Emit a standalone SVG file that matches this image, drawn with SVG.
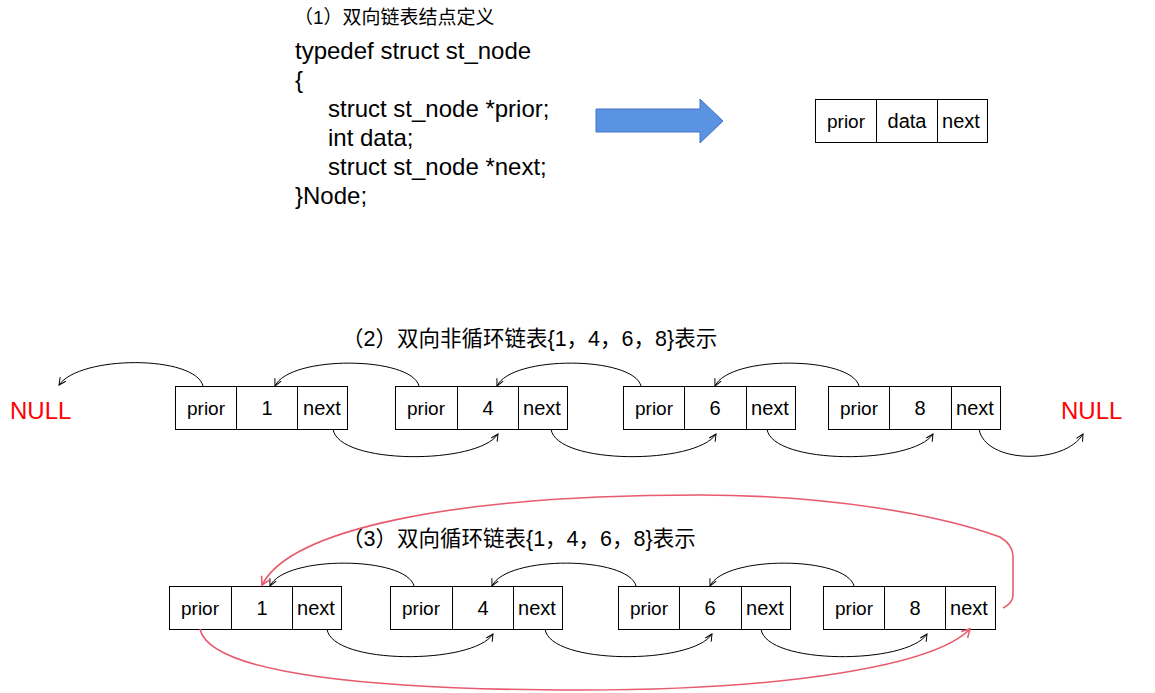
<svg xmlns="http://www.w3.org/2000/svg" width="1155" height="693" viewBox="0 0 1155 693">
<style>
.t{font-family:"Liberation Sans","Noto Sans CJK SC",Arial,sans-serif;fill:#000}
.code{font-size:24px}
.cell{font-size:20px;text-anchor:middle}
.pr{font-size:19px;text-anchor:middle}
.box{fill:#fff;stroke:#000;stroke-width:1}
.div{stroke:#000;stroke-width:1}
.null{font-family:"Liberation Sans",Arial,sans-serif;font-size:24px;fill:#ff0000}
.c{fill:none;stroke:#000;stroke-width:1}
.r{fill:none;stroke:#e85a6e;stroke-width:1.6}
</style>
<defs>
<marker id="ab" markerUnits="userSpaceOnUse" markerWidth="12" markerHeight="12" viewBox="-10 -6 12 12" refX="0" refY="0" orient="auto">
<path d="M-7,-3.5 L0,0 L-7,3.5" fill="none" stroke="#000" stroke-width="1"/>
</marker>
<marker id="ar" markerUnits="userSpaceOnUse" markerWidth="14" markerHeight="14" viewBox="-11 -7 14 14" refX="0" refY="0" orient="auto">
<path d="M-8,-4.5 L0,0 L-8,4.5" fill="none" stroke="#e85a6e" stroke-width="1.6"/>
</marker>
</defs>
<rect width="1155" height="693" fill="#fff"/>

<g id="title1">
<text class="t" x="294" y="23.5" font-size="19">（1）双向链表结点定义</text>
</g>
<g id="code">
<text class="t code" x="295" y="58.5">typedef struct st_node</text>
<text class="t code" x="295" y="87.5">{</text>
<text class="t code" x="328" y="116.5">struct st_node *prior;</text>
<text class="t code" x="328" y="145.5">int data;</text>
<text class="t code" x="328" y="174.5">struct st_node *next;</text>
<text class="t code" x="295" y="203.5">}Node;</text>
</g>
<g id="bigarrow">
<polygon points="596,109 700,109 700,99 723,121 700,143 700,132 596,132" fill="#5b93e3" stroke="#4672c4" stroke-width="1"/>
</g>
<g id="node-def">
<rect class="box" x="815.5" y="99.5" width="172" height="43"/>
<line class="div" x1="876.5" y1="99.5" x2="876.5" y2="142.5"/>
<line class="div" x1="937.5" y1="99.5" x2="937.5" y2="142.5"/>
<text class="t pr" x="846" y="128">prior</text>
<text class="t cell" x="907" y="128">data</text>
<text class="t cell" x="961" y="128">next</text>
</g>

<g id="title2">
<text class="t" x="342" y="345.5" font-size="21.5">（2）双向非循环链表{1，4，6，8}表示</text>
</g>
<g id="null-left"><text class="null" x="10" y="419">NULL</text></g>
<g id="null-right"><text class="null" x="1061" y="419">NULL</text></g>

<g id="r2n1">
<rect class="box" x="175.5" y="386.5" width="172" height="43"/>
<line class="div" x1="236.5" y1="386.5" x2="236.5" y2="429.5"/>
<line class="div" x1="297.5" y1="386.5" x2="297.5" y2="429.5"/>
<text class="t pr" x="206" y="415">prior</text>
<text class="t cell" x="267" y="415">1</text>
<text class="t cell" x="322" y="415">next</text>
</g>
<g id="r2n4">
<rect class="box" x="395.5" y="386.5" width="172" height="43"/>
<line class="div" x1="457.5" y1="386.5" x2="457.5" y2="429.5"/>
<line class="div" x1="518.5" y1="386.5" x2="518.5" y2="429.5"/>
<text class="t pr" x="426" y="415">prior</text>
<text class="t cell" x="488" y="415">4</text>
<text class="t cell" x="542" y="415">next</text>
</g>
<g id="r2n6">
<rect class="box" x="623.5" y="386.5" width="172" height="43"/>
<line class="div" x1="684.5" y1="386.5" x2="684.5" y2="429.5"/>
<line class="div" x1="746.5" y1="386.5" x2="746.5" y2="429.5"/>
<text class="t pr" x="654" y="415">prior</text>
<text class="t cell" x="715" y="415">6</text>
<text class="t cell" x="770" y="415">next</text>
</g>
<g id="r2n8">
<rect class="box" x="828.5" y="386.5" width="172" height="43"/>
<line class="div" x1="889.5" y1="386.5" x2="889.5" y2="429.5"/>
<line class="div" x1="951.5" y1="386.5" x2="951.5" y2="429.5"/>
<text class="t pr" x="859" y="415">prior</text>
<text class="t cell" x="920" y="415">8</text>
<text class="t cell" x="975" y="415">next</text>
</g>

<g id="title3">
<text class="t" x="342" y="545.5" font-size="21.5">（3）双向循环链表{1，4，6，8}表示</text>
</g>
<g id="r3n1">
<rect class="box" x="169.5" y="586.5" width="172" height="43"/>
<line class="div" x1="231.5" y1="586.5" x2="231.5" y2="629.5"/>
<line class="div" x1="292.5" y1="586.5" x2="292.5" y2="629.5"/>
<text class="t pr" x="200" y="615">prior</text>
<text class="t cell" x="262" y="615">1</text>
<text class="t cell" x="316" y="615">next</text>
</g>
<g id="r3n4">
<rect class="box" x="390.5" y="586.5" width="172" height="43"/>
<line class="div" x1="452.5" y1="586.5" x2="452.5" y2="629.5"/>
<line class="div" x1="513.5" y1="586.5" x2="513.5" y2="629.5"/>
<text class="t pr" x="421" y="615">prior</text>
<text class="t cell" x="483" y="615">4</text>
<text class="t cell" x="537" y="615">next</text>
</g>
<g id="r3n6">
<rect class="box" x="618.5" y="586.5" width="172" height="43"/>
<line class="div" x1="679.5" y1="586.5" x2="679.5" y2="629.5"/>
<line class="div" x1="741.5" y1="586.5" x2="741.5" y2="629.5"/>
<text class="t pr" x="649" y="615">prior</text>
<text class="t cell" x="710" y="615">6</text>
<text class="t cell" x="765" y="615">next</text>
</g>
<g id="r3n8">
<rect class="box" x="823.5" y="586.5" width="172" height="43"/>
<line class="div" x1="884.5" y1="586.5" x2="884.5" y2="629.5"/>
<line class="div" x1="945.5" y1="586.5" x2="945.5" y2="629.5"/>
<text class="t pr" x="854" y="615">prior</text>
<text class="t cell" x="915" y="615">8</text>
<text class="t cell" x="969" y="615">next</text>
</g>

<g id="connectors">
<!-- row 2 prior links -->
<path class="c" marker-end="url(#ab)" d="M203,386 C195,355 80,355 59,385"/>
<path class="c" marker-end="url(#ab)" d="M419,386 C411,356 290,355 275,386"/>
<path class="c" marker-end="url(#ab)" d="M641,386 C633,356 512,355 497,386"/>
<path class="c" marker-end="url(#ab)" d="M859,386 C851,356 730,355 715,386"/>
<!-- row 2 next links -->
<path class="c" marker-end="url(#ab)" d="M333,429 C338,465 478,465 498,434"/>
<path class="c" marker-end="url(#ab)" d="M551,429 C556,465 696,465 716,434"/>
<path class="c" marker-end="url(#ab)" d="M767,429 C772,465 913,465 933,434"/>
<path class="c" marker-end="url(#ab)" d="M979,429 C985,464 1065,465 1083,434"/>
<!-- row 3 prior links -->
<path class="c" marker-end="url(#ab)" d="M414,586 C406,556 285,555 270,586"/>
<path class="c" marker-end="url(#ab)" d="M636,586 C628,556 507,555 492,586"/>
<path class="c" marker-end="url(#ab)" d="M854,586 C846,556 725,555 710,586"/>
<!-- row 3 next links -->
<path class="c" marker-end="url(#ab)" d="M327,629 C332,665 473,665 493,634"/>
<path class="c" marker-end="url(#ab)" d="M545,629 C550,665 692,665 712,634"/>
<path class="c" marker-end="url(#ab)" d="M761,629 C766,665 907,665 927,634"/>
<!-- circular red links -->
<path class="r" marker-end="url(#ar)" d="M1003,608 Q1013,603 1013,595 L1013,556 Q1013,545 1000,537 C940,515 830,495 700,495 C450,495 290,530 262,585"/>
<path class="r" marker-end="url(#ar)" d="M200,629 C210,675 380,690 580,690 C790,690 935,665 970,629"/>
</g>
</svg>
